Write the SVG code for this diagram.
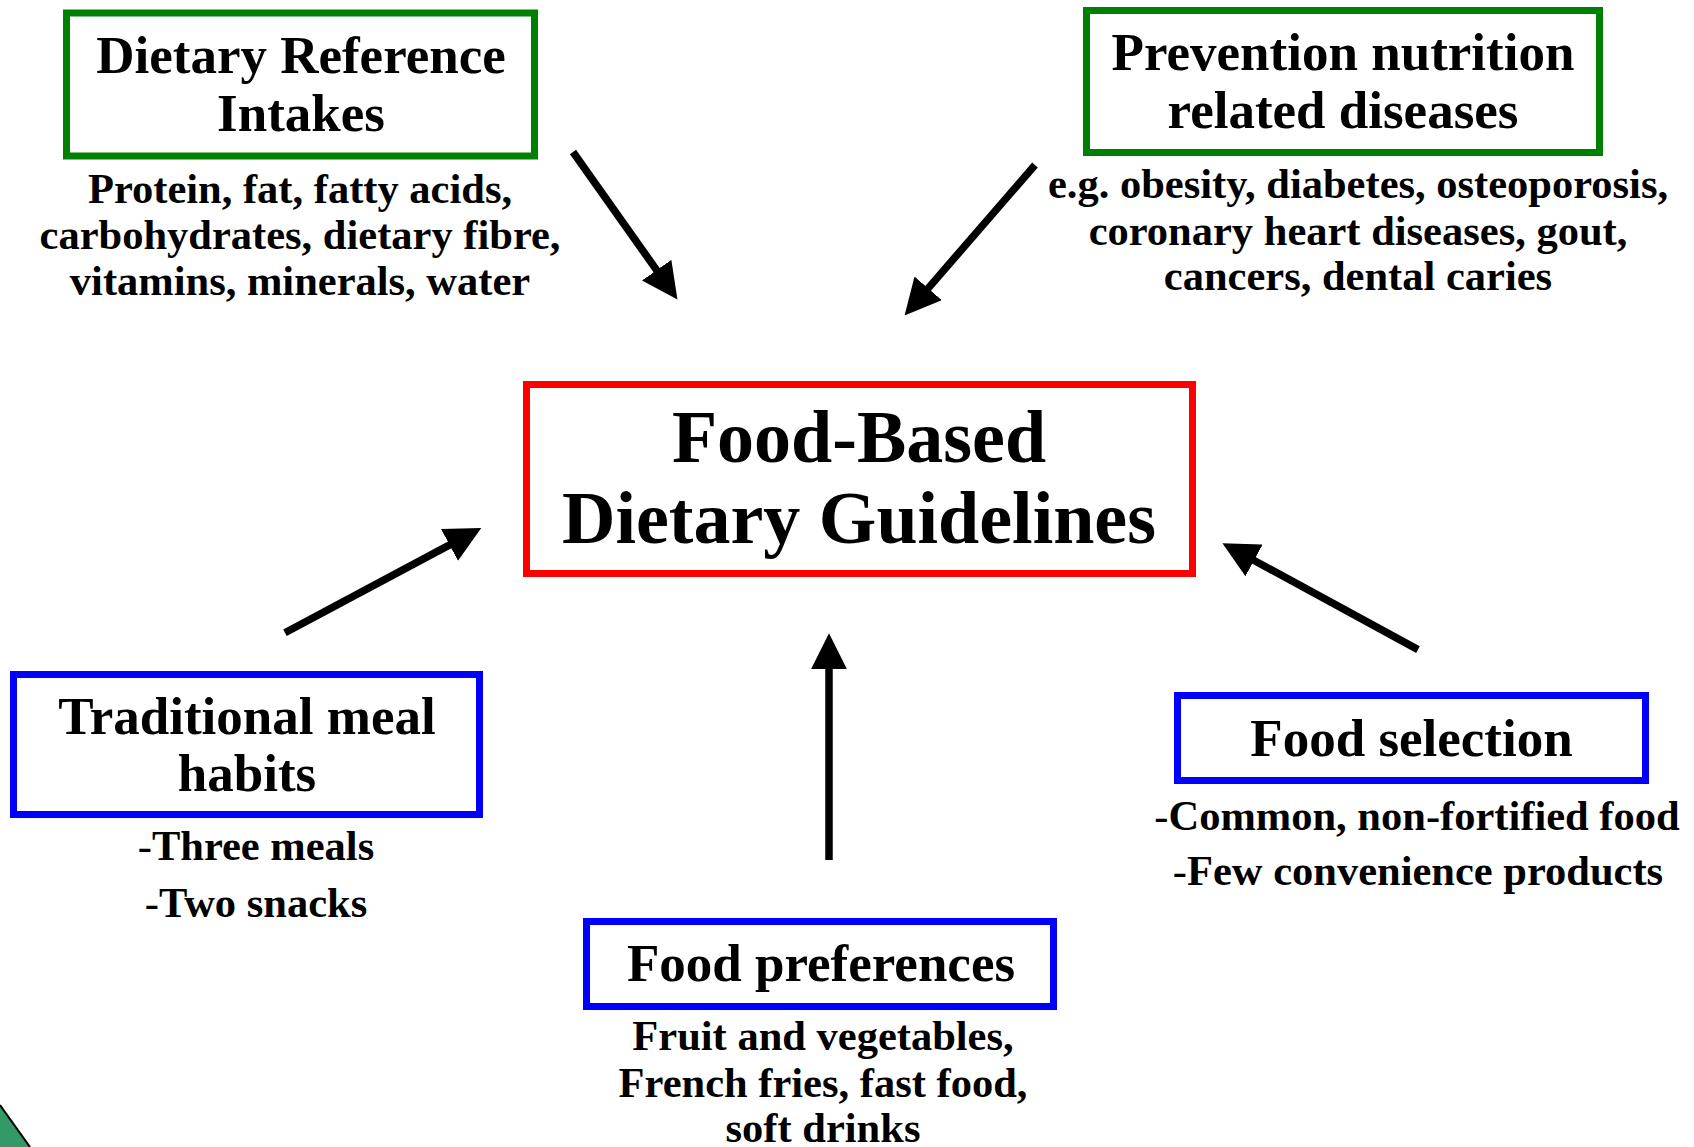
<svg xmlns="http://www.w3.org/2000/svg" width="1694" height="1147" viewBox="0 0 1694 1147">
<style>
text{font-family:"Liberation Serif","Times New Roman",serif;font-weight:bold;fill:#000;text-anchor:middle}
.t{font-size:53px}
.c{font-size:74px}
.s{font-size:42.5px}
.h{font-weight:normal}
rect{fill:#fff;stroke-width:7}
.g{stroke:#008000}
.r{stroke:#ff0000}
.b{stroke:#0000ff}
.conn line{stroke:#000;stroke-width:7.5;stroke-linecap:butt}
</style>
<defs>
<marker id="ah" markerUnits="userSpaceOnUse" markerWidth="36" markerHeight="36" viewBox="0 0 35 35" refX="10" refY="17.5" orient="auto">
<path d="M0,0 L35,17.5 L0,35 Z" fill="#000"/>
</marker>
</defs>
<rect width="1694" height="1147" fill="#fff" stroke="none"/>
<g id="corner">
<polygon points="0,1105 30,1147 0,1147" fill="#339966" stroke="none"/>
<line x1="0" y1="1105" x2="30" y2="1147" stroke="#000" stroke-width="2"/>
</g>
<g id="dri">
<rect class="g" x="66.5" y="13" width="468" height="143"/>
<text class="t" x="301" y="73">Dietary Reference</text>
<text class="t" x="301" y="131">Intakes</text>
<text class="s" x="300" y="203">Protein, fat, fatty acids,</text>
<text class="s" x="300" y="249">carbohydrates, dietary fibre,</text>
<text class="s" x="300" y="295">vitamins, minerals, water</text>
</g>
<g id="prevention">
<rect class="g" x="1086.5" y="10.5" width="513" height="142"/>
<text class="t" x="1343" y="70">Prevention nutrition</text>
<text class="t" x="1343" y="128">related diseases</text>
<text class="s" x="1358" y="198">e.g. obesity, diabetes, osteoporosis,</text>
<text class="s" x="1358" y="245">coronary heart diseases, gout,</text>
<text class="s" x="1358" y="290">cancers, dental caries</text>
</g>
<g id="fbdg">
<rect class="r" x="526.5" y="384.5" width="666" height="189"/>
<text class="c" x="859" y="462">Food-Based</text>
<text class="c" x="859" y="543">Dietary Guidelines</text>
</g>
<g id="traditional">
<rect class="b" x="13.5" y="674.5" width="466" height="140"/>
<text class="t" x="247" y="734">Traditional meal</text>
<text class="t" x="247" y="791">habits</text>
<text class="s" x="256" y="860"><tspan class="h">-</tspan>Three meals</text>
<text class="s" x="256" y="917"><tspan class="h">-</tspan>Two snacks</text>
</g>
<g id="preferences">
<rect class="b" x="586.5" y="921.5" width="467" height="85"/>
<text class="t" x="821" y="981">Food preferences</text>
<text class="s" x="823" y="1050">Fruit and vegetables,</text>
<text class="s" x="823" y="1097">French fries, fast food,</text>
<text class="s" x="823" y="1142">soft drinks</text>
</g>
<g id="selection">
<rect class="b" x="1177.5" y="695.5" width="468" height="85"/>
<text class="t" x="1411.5" y="756">Food selection</text>
<text class="s" x="1417" y="830"><tspan class="h">-</tspan>Common, non-fortified food</text>
<text class="s" x="1418" y="885"><tspan class="h">-</tspan>Few convenience products</text>
</g>
<g id="connectors" class="conn">
<line x1="573" y1="152" x2="662.6" y2="278.6" marker-end="url(#ah)"/>
<line x1="1035" y1="165" x2="921.4" y2="296.1" marker-end="url(#ah)"/>
<line x1="285" y1="632.7" x2="458.6" y2="540.1" marker-end="url(#ah)"/>
<line x1="829" y1="860" x2="829" y2="659" marker-end="url(#ah)"/>
<line x1="1418" y1="649.6" x2="1245" y2="555.5" marker-end="url(#ah)"/>
</g>
</svg>
